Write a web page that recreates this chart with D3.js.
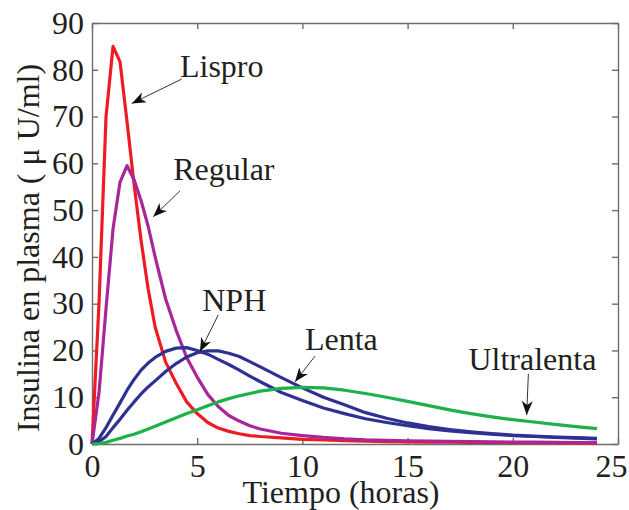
<!DOCTYPE html>
<html>
<head>
<meta charset="utf-8">
<script src="https://cdn.jsdelivr.net/npm/d3@7"></script>
<style>
  body { margin: 0; background: #fff; }
  #chart { width: 629px; height: 510px; }
  .axis path, .axis line { stroke: #6d6d6d; stroke-width: 1.4; }
  .axis text { font-family: 'Liberation Serif', 'Times New Roman', serif; font-size: 32px; fill: #231f20; }
  .label { font-family: 'Liberation Serif', 'Times New Roman', serif; font-size: 32px; fill: #231f20; }
</style>
</head>
<body>
<div id="chart"></div>
<script>
// Time in hours (sampled every 20 min at the start)
const hours = [0, 0.333, 0.667, 1, 1.333, 1.667, 2, 2.333, 2.667, 3, 3.5, 4, 4.5, 5, 5.5, 6, 6.5, 7, 7.5, 8,
  9, 10, 11, 12, 13, 14, 15, 16, 17, 18, 19, 20, 21, 22, 23, 24];

const lispro = [0, 30, 70, 85, 81.7, 68.8, 55.5, 43.5, 33.2, 25, 17.5, 13, 9, 6.5, 4.6, 3.4, 2.7, 2.2, 1.8, 1.6,
  1.3, 1.0, 0.85, 0.7, 0.6, 0.5, 0.45, 0.42, 0.38, 0.35, 0.32, 0.3, 0.27, 0.25, 0.22, 0.2];
const regular = [0, 11, 29, 46, 56, 59.5, 56.5, 52, 46.6, 40, 31, 24.3, 18.5, 14.3, 10.6, 8, 6.1, 4.9, 3.9, 3.2,
  2.3, 1.8, 1.4, 1.1, 0.9, 0.8, 0.7, 0.62, 0.55, 0.5, 0.45, 0.42, 0.38, 0.35, 0.32, 0.3];
const nph = [0, 1.2, 3.5, 6.2, 8.8, 11.5, 13.8, 15.8, 17.3, 18.5, 19.8, 20.5, 20.6, 20, 19.2, 18.1, 17, 15.8, 14.5, 13.3,
  11, 9.3, 7.7, 6.5, 5.4, 4.6, 3.9, 3.3, 2.8, 2.4, 2.1, 1.8, 1.6, 1.4, 1.25, 1.1];
const lenta = [0, 0.5, 1.6, 3.5, 5.3, 7.2, 9, 10.7, 12.2, 13.5, 15.5, 17.2, 18.6, 19.5, 19.9, 19.9, 19.4, 18.7, 17.6, 16.5,
  14.2, 12, 10, 8.4, 6.7, 5.5, 4.5, 3.7, 3.1, 2.6, 2.2, 1.9, 1.7, 1.5, 1.35, 1.2];
const ultralenta = [0, 0.1, 0.35, 0.8, 1.2, 1.7, 2.1, 2.6, 3.2, 3.8, 4.7, 5.6, 6.5, 7.3, 8.2, 9, 9.7, 10.3, 10.8, 11.3,
  11.9, 12.1, 12, 11.5, 10.8, 10, 9.1, 8.2, 7.3, 6.5, 5.8, 5.2, 4.7, 4.2, 3.7, 3.3];

const xTicks = [0, 5, 10, 15, 20, 25];
const yTicks = [0, 10, 20, 30, 40, 50, 60, 70, 80, 90];

const series = [
  { name: 'Lispro', values: lispro, color: '#ed1c24' },
  { name: 'Regular', values: regular, color: '#a8259a' },
  { name: 'NPH', values: nph, color: '#2e3192' },
  { name: 'Lenta', values: lenta, color: '#2e3192' },
  { name: 'Ultralenta', values: ultralenta, color: '#1db04b' }
];

// Annotations in data units: text anchor, arrow start, arrow tip
const notes = [
  { text: 'Lispro', at: [4.18, 78.4], from: [4.26, 78.0], to: [1.89, 72.8] },
  { text: 'Regular', at: [3.86, 56.4], from: [4.18, 54.1], to: [2.91, 48.6] },
  { text: 'NPH', at: [5.24, 28.4], from: [6.0, 27.6], to: [5.13, 19.7] },
  { text: 'Lenta', at: [10.12, 20.1], from: [10.6, 18.8], to: [9.65, 13.3] },
  { text: 'Ultralenta', at: [17.89, 15.8], from: [20.74, 15.0], to: [20.66, 6.2] }
];

const margin = { top: 23, right: 11, bottom: 66, left: 92 };
const width = 629 - margin.left - margin.right;
const height = 510 - margin.top - margin.bottom;

const svg = d3.select('#chart')
  .append('svg')
  .attr('width', 629)
  .attr('height', 510);

const chart = svg.append('g')
  .attr('transform', `translate(${margin.left},${margin.top})`);

const x = d3.scaleLinear().domain([0, 25]).range([0, width]);
const y = d3.scaleLinear().domain([0, 90]).range([height, 0]);

// Box axes with inward ticks
chart.append('g')
  .attr('class', 'axis')
  .attr('transform', `translate(0,${height})`)
  .call(d3.axisBottom(x).tickValues(xTicks).tickSizeInner(-6).tickSizeOuter(0).tickPadding(10))
  .call(g => g.selectAll('.tick text').filter(d => d === 25).attr('dx', -7));

chart.append('g')
  .attr('class', 'axis')
  .call(d3.axisTop(x).tickValues(xTicks).tickSizeInner(-6).tickSizeOuter(0).tickFormat(''));

chart.append('g')
  .attr('class', 'axis')
  .call(d3.axisLeft(y).tickValues(yTicks).tickSizeInner(-6).tickSizeOuter(0).tickPadding(8));

chart.append('g')
  .attr('class', 'axis')
  .attr('transform', `translate(${width},0)`)
  .call(d3.axisRight(y).tickValues(yTicks).tickSizeInner(-6).tickSizeOuter(0).tickFormat(''));

// Curves
const line = d3.line()
  .x((d, i) => x(hours[i]))
  .y(d => y(d));

chart.selectAll('.curve')
  .data(series)
  .enter()
  .append('path')
  .attr('class', 'curve')
  .attr('fill', 'none')
  .attr('stroke', d => d.color)
  .attr('stroke-width', 3.2)
  .attr('stroke-linejoin', 'round')
  .attr('d', d => line(d.values));

// Arrow head
svg.append('defs')
  .append('marker')
  .attr('id', 'head')
  .attr('markerUnits', 'userSpaceOnUse')
  .attr('viewBox', '-14 -6 16 12')
  .attr('refX', 0)
  .attr('refY', 0)
  .attr('markerWidth', 16)
  .attr('markerHeight', 12)
  .attr('orient', 'auto')
  .append('path')
  .attr('d', 'M0,0 L-14,-5.5 L-10,0 L-14,5.5 Z')
  .attr('fill', '#111');

chart.selectAll('.arrow')
  .data(notes)
  .enter()
  .append('line')
  .attr('class', 'arrow')
  .attr('x1', d => x(d.from[0]))
  .attr('y1', d => y(d.from[1]))
  .attr('x2', d => x(d.to[0]))
  .attr('y2', d => y(d.to[1]))
  .attr('stroke', '#333')
  .attr('stroke-width', 1)
  .attr('marker-end', 'url(#head)');

chart.selectAll('.note')
  .data(notes)
  .enter()
  .append('text')
  .attr('class', 'label note')
  .attr('x', d => x(d.at[0]))
  .attr('y', d => y(d.at[1]))
  .text(d => d.text);

// Axis titles
svg.append('text')
  .attr('class', 'label')
  .attr('text-anchor', 'middle')
  .attr('x', 341)
  .attr('y', 503)
  .text('Tiempo (horas)');

svg.append('text')
  .attr('class', 'label')
  .attr('text-anchor', 'middle')
  .attr('transform', 'translate(38.5,248) rotate(-90)')
  .text('Insulina en plasma ( μ U/ml)');
</script>
</body>
</html>
